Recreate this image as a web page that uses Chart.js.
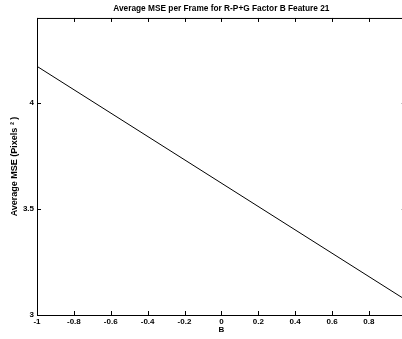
<!DOCTYPE html>
<html>
<head>
<meta charset="utf-8">
<script src="https://cdn.jsdelivr.net/npm/chart.js@4/dist/chart.umd.min.js"></script>
<style>
  html, body { margin: 0; padding: 0; background: #fff; overflow: hidden; }
  #wrap { width: 402px; height: 339px; overflow: hidden; }
</style>
</head>
<body>
<div id="wrap"><canvas id="chartMse" width="410" height="339"></canvas></div>
<script>
// data
const bValues = [-1, 1];
const mseValues = [4.172, 3.071];
const xTicks = [-1, -0.8, -0.6, -0.4, -0.2, 0, 0.2, 0.4, 0.6, 0.8, 1];
const yTicks = [3, 3.5, 4];

const fontFamily = "'Liberation Sans', Arial, sans-serif";

// matlab style box with ticks pointing in
const boxTicks = {
    id: "boxTicks",
    afterDraw(chart) {
        const ctx = chart.ctx;
        const area = chart.chartArea;
        const xs = chart.scales.x;
        const ys = chart.scales.y;
        ctx.save();
        ctx.strokeStyle = "#000";
        ctx.lineWidth = 1;
        ctx.beginPath();
        ctx.moveTo(area.left + 0.5, area.top + 0.5);
        ctx.lineTo(area.right + 0.5, area.top + 0.5);
        ctx.moveTo(area.left + 0.5, area.top);
        ctx.lineTo(area.left + 0.5, area.bottom + 0.5);
        ctx.lineTo(area.right + 0.5, area.bottom + 0.5);
        ctx.moveTo(area.right + 0.5, area.top);
        ctx.lineTo(area.right + 0.5, area.bottom);
        xTicks.forEach(v => {
            let px = Math.round(xs.getPixelForValue(v)) + 0.5;
            ctx.moveTo(px, area.bottom);
            ctx.lineTo(px, area.bottom - 4);
            ctx.moveTo(px, area.top);
            ctx.lineTo(px, area.top + 4);
        });
        yTicks.forEach(v => {
            let py = Math.round(ys.getPixelForValue(v)) + 0.5;
            ctx.moveTo(area.left, py);
            ctx.lineTo(area.left + 4, py);
            ctx.moveTo(area.right, py);
            ctx.lineTo(area.right - 4, py);
        });
        ctx.stroke();
        ctx.restore();
    }
};

new Chart(document.getElementById("chartMse"), {
    type: "line",
    data: {
        datasets: [{
            data: bValues.map((b, i) => ({ x: b, y: mseValues[i] })),
            borderColor: "#000",
            borderWidth: 1,
            pointRadius: 0,
            tension: 0
        }]
    },
    options: {
        responsive: false,
        animation: false,
        layout: { padding: { left: 0, right: 3, top: 0, bottom: 0 } },
        plugins: {
            legend: { display: false },
            tooltip: { enabled: false },
            title: {
                display: true,
                fullSize: false,
                text: "Average MSE per Frame for R-P+G Factor B Feature 21",
                color: "#000",
                font: { family: fontFamily, size: 8.3, weight: "bold" },
                padding: { top: 4, bottom: 4 }
            }
        },
        scales: {
            x: {
                type: "linear",
                min: -1,
                max: 1,
                afterBuildTicks: scale => { scale.ticks = xTicks.map(v => ({ value: v })); },
                afterFit: scale => { scale.height = 24; },
                grid: { display: false, drawTicks: false },
                border: { display: false },
                ticks: {
                    color: "#000",
                    padding: 2,
                    maxRotation: 0,
                    autoSkip: false,
                    font: { family: fontFamily, size: 8, weight: "bold" },
                    callback: v => String(Math.round(v * 10) / 10)
                },
                title: {
                    display: true,
                    text: "B",
                    color: "#000",
                    font: { family: fontFamily, size: 8, weight: "bold" },
                    padding: { top: 0, bottom: 4 }
                }
            },
            y: {
                min: 3,
                max: 4.4,
                afterBuildTicks: scale => { scale.ticks = yTicks.map(v => ({ value: v })); },
                afterFit: scale => { scale.width = 37; },
                grid: { display: false, drawTicks: false },
                border: { display: false },
                ticks: {
                    color: "#000",
                    padding: 3,
                    font: { family: fontFamily, size: 8, weight: "bold" },
                    callback: v => String(v)
                },
                title: {
                    display: true,
                    text: "Average MSE (Pixels ² )",
                    color: "#000",
                    font: { family: fontFamily, size: 9, weight: "bold" },
                    padding: { top: 9, bottom: 0 }
                }
            }
        }
    },
    plugins: [boxTicks]
});
</script>
</body>
</html>
